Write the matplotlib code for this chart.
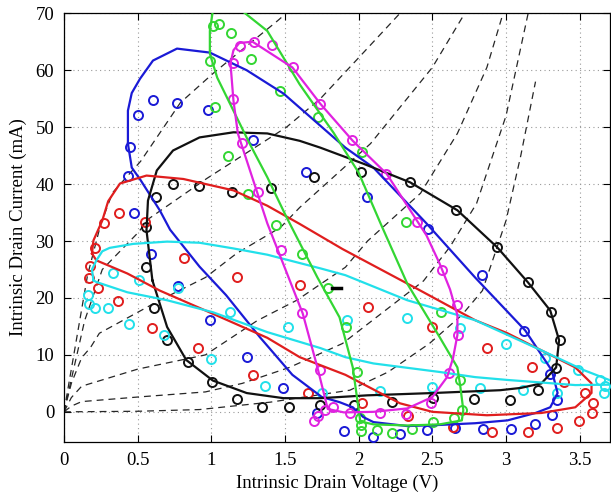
import matplotlib
matplotlib.use("Agg")
import matplotlib.pyplot as plt

# ---------------- data ----------------
x_ticks = [0, 0.5, 1, 1.5, 2, 2.5, 3, 3.5]
x_tick_labels = ["0", "0.5", "1", "1.5", "2", "2.5", "3", "3.5"]
y_ticks = [0, 10, 20, 30, 40, 50, 60, 70]
y_tick_labels = ["0", "10", "20", "30", "40", "50", "60", "70"]

# dashed I-V curves
iv1_V = [0, 0.5, 0.92, 1.4, 1.94, 2.2, 2.48, 2.7, 2.84, 3.0, 3.1, 3.2]
iv1_I = [0, 0.1, 0.4, 1.7, 3.8, 7, 12, 17, 21.3, 33.6, 45, 58]
iv2_V = [0, 0.05, 0.12, 0.5, 0.96, 1.21, 1.53, 1.89, 2.14, 2.44, 2.62, 2.8, 3.0, 3.15]
iv2_I = [0, 1, 1.8, 2.6, 3.5, 5, 7.8, 12, 17, 23, 29, 36.6, 52, 70]
iv3_V = [0, 0.05, 0.12, 0.5, 0.96, 1.31, 1.58, 1.91, 2.06, 2.42, 2.67, 2.87, 2.98]
iv3_I = [0, 2.5, 4.5, 7.5, 10, 16, 19.6, 25.4, 30, 38.4, 48.9, 60.5, 70]
iv4_V = [0, 0.05, 0.12, 0.18, 0.24, 0.65, 0.96, 1.17, 1.47, 1.6, 2.08, 2.5, 2.72]
iv4_I = [0, 5, 9.5, 11.3, 13.8, 19.6, 23.6, 27.8, 32.4, 35.9, 47.1, 60.5, 70]
iv5_V = [0, 0.07, 0.14, 0.26, 0.5, 0.58, 0.97, 1.51, 1.74, 2.0, 2.28]
iv5_I = [0, 8, 16, 25, 31.4, 34, 41, 50, 55, 62.2, 70]
iv6_V = [0, 0.08, 0.16, 0.25, 0.33, 0.52, 0.79, 1.01, 1.45, 1.53]
iv6_I = [0, 12, 24, 33, 38.5, 44, 54.3, 59.4, 68.7, 70.5]

# simulated loops (solid lines)
blue_V = [0.434, 0.434, 0.46, 0.516, 0.604, 0.767, 0.99, 1.24, 1.49, 1.91, 2.10, 2.46, 2.79,
          3.13, 3.31, 3.35, 3.30, 3.20, 3.01, 2.79, 2.55, 2.33, 2.10, 2.03, 1.96, 1.87, 1.75,
          1.55, 1.33, 1.10, 0.92, 0.72, 0.65, 0.52, 0.46, 0.434]
blue_I = [47.1, 52.9, 56, 58.5, 61.7, 63.8, 63.1, 60.0, 55.9, 46.4, 42.9, 33.1, 23.6,
          14.3, 7.3, 3.3, 0.8, -0.2, -1.5, -2.0, -2.3, -2.5, -1.8, -0.9, 0.8, 1.7, 2.6,
          6.5, 13.1, 20.5, 25.5, 32, 35.4, 40.7, 42.9, 47.1]

black_V = [0.60, 0.56, 0.57, 0.63, 0.74, 0.92, 1.15, 1.38, 1.6, 1.74, 2.03, 2.35, 2.67, 2.94,
           3.15, 3.30, 3.36, 3.34, 3.24, 3.1, 2.96, 2.5, 2.06, 1.74, 1.49, 1.24, 1.01, 0.83,
           0.70, 0.60]
black_I = [23.1, 31.9, 37.1, 42.4, 45.9, 48.2, 49.1, 48.9, 47.6, 46.4, 43.6, 40.3, 35.4, 28.9,
           22.7, 17.8, 12.6, 7.8, 5.0, 4.2, 3.8, 3.3, 2.9, 2.4, 2.4, 3.3, 5.5, 9.1,
           14.9, 23.1]

red_V = [0.19, 0.20, 0.26, 0.30, 0.38, 0.56, 0.81, 1.15, 1.38, 1.6, 1.89, 2.39, 2.79, 3.01,
         3.24, 3.47, 3.58, 3.58, 3.47, 3.24, 2.87, 2.5, 2.28, 1.91, 1.6, 1.38, 0.96, 0.65,
         0.43, 0.22, 0.19]
red_I = [27.8, 30.1, 33.6, 37, 40.1, 41.5, 40.9, 38.9, 36.2, 33, 28.6, 21.7, 16.1, 13.8,
         10.8, 7.8, 5.0, 3.3, 0.8, -0.2, -0.6, 0, 1.5, 6.5, 9.6, 13, 17.8, 21.3,
         24.3, 26.6, 27.8]

cyan_V = [0.2, 0.19, 0.22, 0.26, 0.31, 0.47, 0.70, 0.92, 1.15, 1.38, 1.74, 1.91, 2.33, 2.79,
          3.24, 3.53, 3.78, 3.47, 3.01, 2.79, 2.55, 2.1, 1.91, 1.74, 1.38, 1.01, 0.70, 0.43,
          0.22, 0.2]
cyan_I = [23.1, 25, 26.6, 28.2, 28.8, 29.5, 29.9, 29.7, 28.7, 27.6, 25.2, 24.0, 19.6, 16.1,
          10.8, 7.3, 4.8, 4.7, 5.6, 6.1, 7.0, 8.5, 9.6, 11.2, 14.0, 17.5, 19.6, 21.0,
          22.8, 23.1]

green_V = [1.01, 0.99, 0.99, 1.04, 1.15, 1.26, 1.38, 1.51, 1.72, 1.87, 1.96, 2.01, 2.03, 2.1,
           2.33, 2.55, 2.70, 2.71, 2.69, 2.67, 2.55, 2.33, 2.15, 2.0, 1.83, 1.6, 1.38, 1.21,
           1.1, 1.01]
green_I = [70.4, 66.9, 62.9, 58.7, 52.9, 47.1, 41.2, 34.2, 23.6, 16.6, 7.8, -1.5, -1.8, -2.2,
           -2.4, -2.2, -1.5, 0.3, 4.4, 7.8, 13.1, 22.5, 33, 42, 49, 57.5, 66.9, 70.4,
           72, 70.4]

magenta_V = [1.13, 1.15, 1.19, 1.28, 1.40, 1.55, 1.74, 1.96, 2.19, 2.35, 2.46, 2.55, 2.62,
             2.67, 2.67, 2.64, 2.60, 2.50, 2.33, 2.10, 1.90, 1.79, 1.72, 1.62, 1.38, 1.18,
             1.15, 1.13]
magenta_I = [61.2, 63.5, 64.8, 65.0, 63.0, 60.5, 54.1, 47.6, 41.8, 35.4, 31.0, 26.0, 21.5,
             17.0, 13.5, 9.4, 6.1, 2.6, 0.6, 0.0, -0.1, 0.5, 7.8, 17.3, 33.1, 48.9,
             54.7, 61.2]

# measured points (circles)
blue_mV = [0.448, 0.434, 0.475, 0.502, 0.604, 0.767, 0.977, 1.282, 1.642, 2.056, 2.469, 2.836,
           3.121, 3.297, 3.345, 3.311, 3.195, 3.033, 2.843, 2.653, 2.463, 2.280, 2.096, 1.900,
           1.716, 1.486, 1.242, 0.990, 0.773, 0.590]
blue_mI = [46.6, 41.4, 35.0, 52.1, 54.7, 54.3, 53.1, 47.7, 42.2, 37.7, 32.2, 24.0,
           14.2, 6.6, 2.1, -0.6, -2.2, -3.1, -3.1, -2.9, -3.2, -3.9, -4.4, -3.4,
           -0.2, 4.2, 9.6, 16.1, 22.1, 27.8]

black_mV = [0.556, 0.556, 0.611, 0.699, 0.841, 1.004, 1.174, 1.343, 1.526, 1.737, 1.967, 2.225,
            2.503, 2.782, 3.026, 3.216, 3.338, 3.365, 3.304, 3.148, 2.938, 2.659, 2.347, 2.015,
            1.696, 1.404, 1.140, 0.916, 0.739, 0.624]
black_mI = [32.4, 25.4, 18.2, 12.6, 8.7, 5.2, 2.2, 0.8, 0.8, 1.2, 1.2, 1.7,
            2.4, 2.2, 2.1, 3.8, 7.7, 12.6, 17.6, 22.8, 28.9, 35.4, 40.3, 42.1,
            41.2, 39.4, 38.7, 39.6, 40.1, 37.7]

red_mV = [0.271, 0.373, 0.550, 0.210, 0.176, 0.170, 0.231, 0.366, 0.597, 0.814, 0.909, 1.174,
          1.282, 1.601, 1.655, 2.022, 2.062, 2.334, 2.497, 2.639, 2.870, 2.904, 3.148, 3.175,
          3.345, 3.392, 3.494, 3.535, 3.582, 3.589]
red_mI = [33.1, 34.9, 33.3, 28.7, 25.7, 23.5, 21.7, 19.4, 14.7, 27.0, 11.2, 23.6,
          6.4, 22.2, 3.3, 1.5, 18.5, -0.8, 14.9, -2.7, 11.2, -3.6, -3.6, 7.8,
          -2.9, 5.2, -1.6, 3.3, -0.2, 1.5]

cyan_mV = [0.163, 0.170, 0.210, 0.299, 0.332, 0.509, 0.441, 0.678, 0.773, 0.997, 1.126, 1.364,
           1.520, 1.750, 1.920, 2.144, 2.327, 2.497, 2.687, 2.822, 2.999, 3.114, 3.263, 3.345,
           3.487, 3.636, 3.670, 3.664]
cyan_mI = [20.6, 18.9, 18.2, 18.2, 24.3, 23.1, 15.4, 13.5, 21.7, 9.2, 17.5, 4.5,
           14.9, 3.3, 16.1, 3.6, 16.4, 4.3, 14.7, 4.2, 11.9, 3.8, 9.4, 3.3,
           7.3, 5.6, 4.5, 3.3]

green_mV = [1.011, 1.052, 1.133, 0.991, 1.269, 1.024, 1.113, 1.248, 1.438, 1.465, 1.723, 2.022,
            2.320, 1.615, 1.791, 1.913, 1.988, 2.008, 2.015, 2.015, 2.123, 2.225, 2.361, 2.503,
            2.646, 2.700, 2.687, 2.558]
green_mI = [67.8, 68.2, 66.5, 61.7, 61.9, 53.5, 44.9, 38.2, 32.9, 56.4, 51.7, 45.6,
            33.3, 27.7, 21.7, 14.9, 7.0, -1.1, -2.3, -3.4, -3.2, -3.7, -3.0, -1.8,
            -1.1, 0.3, 5.6, 17.5]

magenta_mV = [1.147, 1.194, 1.289, 1.411, 1.554, 1.737, 1.954, 2.185, 2.395, 2.564, 2.666, 2.673,
              2.612, 2.490, 2.320, 2.144, 1.940, 1.825, 1.771, 1.723, 1.696, 1.737, 1.615, 1.472,
              1.316, 1.208, 1.147]
magenta_mI = [61.2, 64.3, 64.9, 64.5, 60.5, 54.0, 47.8, 41.7, 33.4, 24.9, 18.7, 13.5,
              6.8, 1.5, -0.4, -0.2, -0.2, 0.8, 0.3, -0.8, -1.6, 7.3, 17.3, 28.5,
              38.7, 47.3, 55.0]

mark_V = [1.82, 1.88]
mark_I = [21.7, 21.7]

# ---------------- plot ----------------
serif = ["Liberation Serif", "DejaVu Serif"]
plt.rcParams["font.family"] = serif

fig = plt.figure(figsize=(6.11, 4.99), dpi=100)
ax = fig.add_axes([0.1047, 0.1142, 0.8933, 0.8597])

for V, I in [(iv1_V, iv1_I), (iv2_V, iv2_I), (iv3_V, iv3_I),
             (iv4_V, iv4_I), (iv5_V, iv5_I), (iv6_V, iv6_I)]:
    ax.plot(V, I, color="#262626", lw=0.9, dashes=(5.5, 4), zorder=2)

cols = {"blue": "#1a1ad6", "black": "#111111", "red": "#e01e1e",
        "cyan": "#22e0ea", "green": "#33d633", "magenta": "#e022e0"}

meas = [("blue", blue_mV, blue_mI), ("black", black_mV, black_mI), ("red", red_mV, red_mI),
        ("cyan", cyan_mV, cyan_mI), ("green", green_mV, green_mI),
        ("magenta", magenta_mV, magenta_mI)]
for c, V, I in meas:
    ax.plot(V, I, "o", mfc="none", mec=cols[c], ms=6.5, mew=1.4, zorder=3)

sims = [("blue", blue_V, blue_I), ("black", black_V, black_I), ("red", red_V, red_I),
        ("cyan", cyan_V, cyan_I), ("green", green_V, green_I),
        ("magenta", magenta_V, magenta_I)]
for c, V, I in sims:
    ax.plot(V, I, "-", color=cols[c], lw=1.6, zorder=4)

ax.plot(mark_V, mark_I, "-", color="black", lw=2.5, zorder=5)

ax.set_xlim(0, 3.704)
ax.set_ylim(-5.3, 70.05)
ax.set_xticks(x_ticks)
ax.set_xticklabels(x_tick_labels)
ax.set_yticks(y_ticks)
ax.set_yticklabels(y_tick_labels)
ax.tick_params(direction="in", top=True, right=True, length=5, width=0.8,
               labelsize=13.5, pad=7)
ax.grid(True, linestyle=(0, (1, 3)), color="#9a9a9a", lw=0.8)
for s in ax.spines.values():
    s.set_linewidth(0.9)
ax.set_xlabel("Intrinsic Drain Voltage (V)", fontsize=13.5, labelpad=4)
ax.set_ylabel("Intrinsic Drain Current (mA)", fontsize=13.5, labelpad=6)

fig.savefig("out.png", dpi=100)
